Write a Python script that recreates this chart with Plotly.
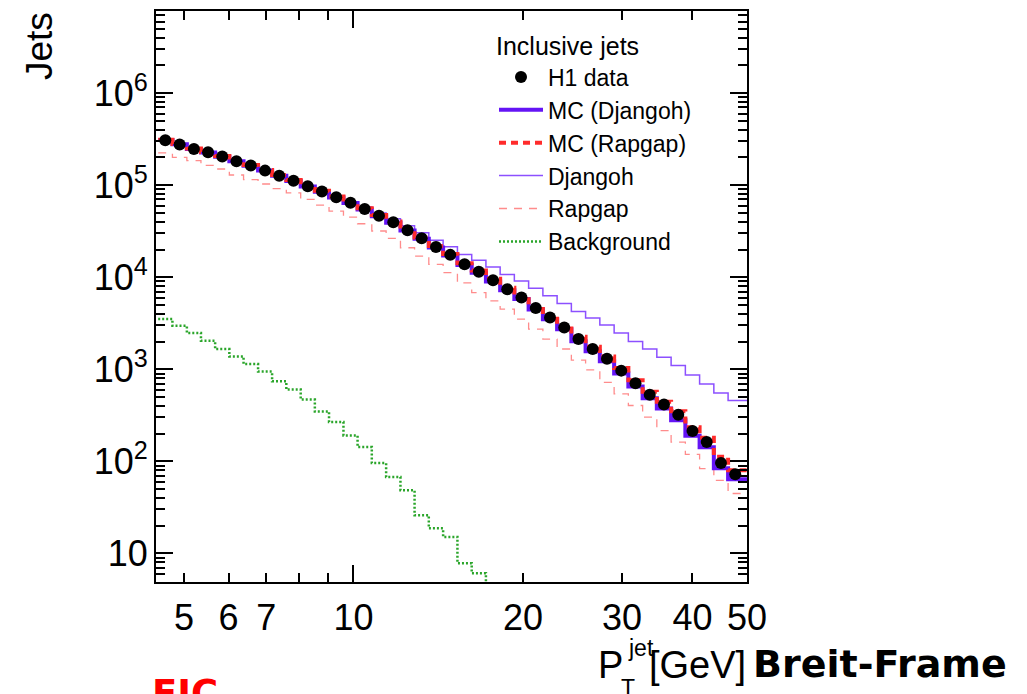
import numpy as np
import plotly.graph_objects as go

# ---- binning in jet transverse momentum [GeV] ----
pt_edges = [4.50, 4.77, 5.06, 5.36, 5.68, 6.02, 6.38, 6.77, 7.17, 7.60,
            8.06, 8.54, 9.05, 9.60, 10.17, 10.78, 11.43, 12.12, 12.84, 13.61,
            14.43, 15.30, 16.22, 17.19, 18.22, 19.31, 20.47, 21.70, 23.00, 24.38,
            25.84, 27.39, 29.04, 30.78, 32.63, 34.58, 36.66, 38.86, 41.19, 43.66,
            46.28, 49.06]

# ---- jet counts per bin ----
h1_data = [3.08e5, 2.76e5, 2.47e5, 2.28e5, 2.05e5, 1.82e5, 1.64e5, 1.44e5, 1.27e5, 1.12e5,
           9.75e4, 8.55e4, 7.41e4, 6.43e4, 5.50e4, 4.65e4, 3.95e4, 3.24e4, 2.65e4, 2.13e4,
           1.75e4, 1.38e4, 1.15e4, 9.29e3, 7.41e3, 6.01e3, 4.62e3, 3.66e3, 2.85e3, 2.13e3,
           1.66e3, 1.30e3, 967, 705, 528, 414, 320, 213, 162, 95.8, 72.3]

mc_djangoh = [3.10e5, 2.78e5, 2.48e5, 2.27e5, 2.04e5, 1.82e5, 1.63e5, 1.44e5, 1.27e5, 1.11e5,
              9.70e4, 8.50e4, 7.35e4, 6.40e4, 5.45e4, 4.60e4, 3.90e4, 3.22e4, 2.62e4, 2.10e4,
              1.72e4, 1.36e4, 1.12e4, 9.00e3, 7.20e3, 5.80e3, 4.45e3, 3.50e3, 2.72e3, 2.02e3,
              1.57e3, 1.22e3, 900, 650, 485, 375, 280, 190, 142, 84, 64]

mc_rapgap = [3.12e5, 2.80e5, 2.50e5, 2.30e5, 2.07e5, 1.84e5, 1.66e5, 1.46e5, 1.29e5, 1.14e5,
             9.90e4, 8.70e4, 7.55e4, 6.55e4, 5.60e4, 4.75e4, 4.03e4, 3.30e4, 2.70e4, 2.18e4,
             1.79e4, 1.42e4, 1.18e4, 9.60e3, 7.70e3, 6.25e3, 4.85e3, 3.85e3, 3.00e3, 2.25e3,
             1.76e3, 1.38e3, 1030, 760, 570, 445, 350, 235, 180, 112, 80]

djangoh = [3.08e5, 2.76e5, 2.47e5, 2.28e5, 2.05e5, 1.82e5, 1.64e5, 1.44e5, 1.27e5, 1.12e5,
           9.75e4, 8.64e4, 7.56e4, 6.62e4, 5.78e4, 4.98e4, 4.31e4, 3.63e4, 3.05e4, 2.53e4,
           2.15e4, 1.77e4, 1.53e4, 1.29e4, 1.07e4, 9.10e3, 7.61e3, 6.28e3, 5.18e3, 4.25e3,
           3.60e3, 3.03e3, 2.48e3, 2.01e3, 1.66e3, 1.35e3, 1.10e3, 869, 694, 554, 458]

rapgap = [2.24e5, 2.01e5, 1.85e5, 1.64e5, 1.50e5, 1.29e5, 1.15e5, 1.03e5, 9.20e4, 8.26e4,
          7.00e4, 6.08e4, 5.24e4, 4.51e4, 3.81e4, 3.18e4, 2.65e4, 2.09e4, 1.70e4, 1.38e4,
          1.12e4, 8.70e3, 6.82e3, 5.55e3, 4.51e3, 3.51e3, 2.73e3, 2.13e3, 1.66e3, 1.26e3,
          984, 722, 541, 404, 302, 216, 162, 119, 83.4, 62.2, 44.7]

background = [3.51e3, 2.97e3, 2.48e3, 2.04e3, 1.66e3, 1.38e3, 1.14e3, 944, 741, 602,
              469, 348, 267, 191, 143, 95.8, 67.6, 48.5, 26.0, 18.7,
              15.1, 7.8, 6.07, 1.0]

# ---- axis ticks ----
x_tickvals = [5, 6, 7, 10, 20, 30, 40, 50]
x_ticktext = ["5", "6", "7", "10", "20", "30", "40", "50"]
x_minor = [8, 9]
y_tickvals = [10, 1e2, 1e3, 1e4, 1e5, 1e6]
y_ticktext = ["10", "10<sup>2</sup>", "10<sup>3</sup>", "10<sup>4</sup>",
              "10<sup>5</sup>", "10<sup>6</sup>"]
y_minor = [m * 10 ** k for k in range(0, 7) for m in range(2, 10)]

X_MIN, X_MAX = 4.46, 50.0
Y_LOG_MIN, Y_LOG_MAX = 0.689, 6.8925

W, H = 1027, 694
ML, MR, MT, MB = 156, 280, 9, 112
PW, PH = W - ML - MR, H - MT - MB

TXT = "Liberation Sans, Arial, Helvetica, sans-serif"
BOLD = "DejaVu Sans, Verdana, sans-serif"

edges = np.array(pt_edges)
centers = np.sqrt(edges[:-1] * edges[1:])


def step(vals):
    n = len(vals)
    xs = list(edges[:n + 1])
    ys = list(vals) + [vals[-1]]
    if n == len(edges) - 1:
        xs.append(X_MAX)
        ys.append(vals[-1])
    return xs, ys


def px_x(px):
    return (px - ML) / PW


def px_y(py):
    return (H - MB - py) / PH


fig = go.Figure()

hist_specs = [
    ("Background", background, dict(color="#2aa52a", width=2.5, dash="2px,2px"), 6),
    ("Rapgap", rapgap, dict(color="#ff8c8c", width=1.3, dash="8px,7px"), 5),
    ("Djangoh", djangoh, dict(color="#8c50ff", width=1.5), 4),
    ("MC (Djangoh)", mc_djangoh, dict(color="#6414f5", width=4), 2),
    ("MC (Rapgap)", mc_rapgap, dict(color="#ff2b2b", width=4, dash="7px,5px"), 3),
]
for name, vals, line, rank in hist_specs:
    xs, ys = step(vals)
    fig.add_trace(go.Scatter(x=xs, y=ys, mode="lines", name=name, line=line,
                             line_shape="hv", legendrank=rank, hoverinfo="skip"))

fig.add_trace(go.Scatter(x=centers, y=h1_data, mode="markers", name="H1 data",
                         marker=dict(color="black", size=12), legendrank=1))

# helper trace on the overlay axis carrying the long tick at 10 GeV
fig.add_trace(go.Scatter(x=[10], y=[100], xaxis="x2", mode="markers",
                         marker=dict(opacity=0), showlegend=False, hoverinfo="skip"))

axis_common = dict(type="log", ticks="inside", tickcolor="black", tickwidth=1.5,
                   showgrid=False, zeroline=False)

fig.update_layout(
    width=W, height=H,
    margin=dict(l=ML, r=MR, t=MT, b=MB),
    paper_bgcolor="white", plot_bgcolor="white",
    font=dict(family=TXT, color="black"),
    xaxis=dict(**axis_common, range=[np.log10(X_MIN), np.log10(X_MAX)],
               tickvals=x_tickvals, ticktext=x_ticktext, ticklen=9,
               showline=True, linecolor="black", linewidth=2, mirror="ticks",
               tickfont=dict(size=36), ticklabelstandoff=3,
               minor=dict(tickvals=x_minor, ticks="inside", ticklen=9,
                          tickwidth=1.5, tickcolor="black", showgrid=False)),
    xaxis2=dict(**axis_common, range=[np.log10(X_MIN), np.log10(X_MAX)],
                overlaying="x", anchor="y", tickvals=[10], ticklen=17,
                showticklabels=False, showline=False, mirror="ticks"),
    yaxis=dict(**axis_common, range=[Y_LOG_MIN, Y_LOG_MAX],
               tickvals=y_tickvals, ticktext=y_ticktext, ticklen=17,
               showline=True, linecolor="black", linewidth=2, mirror="ticks",
               tickfont=dict(size=36), ticklabelstandoff=-1,
               minor=dict(tickvals=y_minor, ticks="inside", ticklen=9,
                          tickwidth=1.5, tickcolor="black", showgrid=False)),
    legend=dict(x=px_x(494), y=px_y(21), xanchor="left", yanchor="top",
                bgcolor="rgba(0,0,0,0)", borderwidth=0,
                font=dict(size=23, family=TXT),
                title=dict(text="Inclusive jets", font=dict(size=25, family=TXT)),
                itemwidth=44, tracegroupgap=0),
    showlegend=True,
)

annots = [
    dict(text="Jets", x=px_x(39), y=px_y(9), textangle=-90, xanchor="center",
         yanchor="top", font=dict(size=37, family=TXT)),
    dict(text="P", x=px_x(597), y=px_y(665), xanchor="left", yanchor="middle",
         font=dict(size=38, family=TXT)),
    dict(text="jet", x=px_x(627), y=px_y(648), xanchor="left", yanchor="middle",
         font=dict(size=23, family=TXT)),
    dict(text="T", x=px_x(620), y=px_y(688), xanchor="left", yanchor="middle",
         font=dict(size=23, family=TXT)),
    dict(text="[GeV]", x=px_x(747), y=px_y(665), xanchor="right", yanchor="middle",
         font=dict(size=38, family=TXT)),
    dict(text="<b>Breit-Frame</b>", x=px_x(752), y=px_y(664), xanchor="left",
         yanchor="middle", font=dict(size=38, family=BOLD)),
    dict(text="<b>EIC</b>", x=px_x(151), y=px_y(694), xanchor="left",
         yanchor="middle", font=dict(size=37, family=BOLD, color="#ff0000")),
]
for a in annots:
    a.update(xref="paper", yref="paper", showarrow=False, borderpad=0)
    fig.add_annotation(**a)

fig.write_html("out.html")
